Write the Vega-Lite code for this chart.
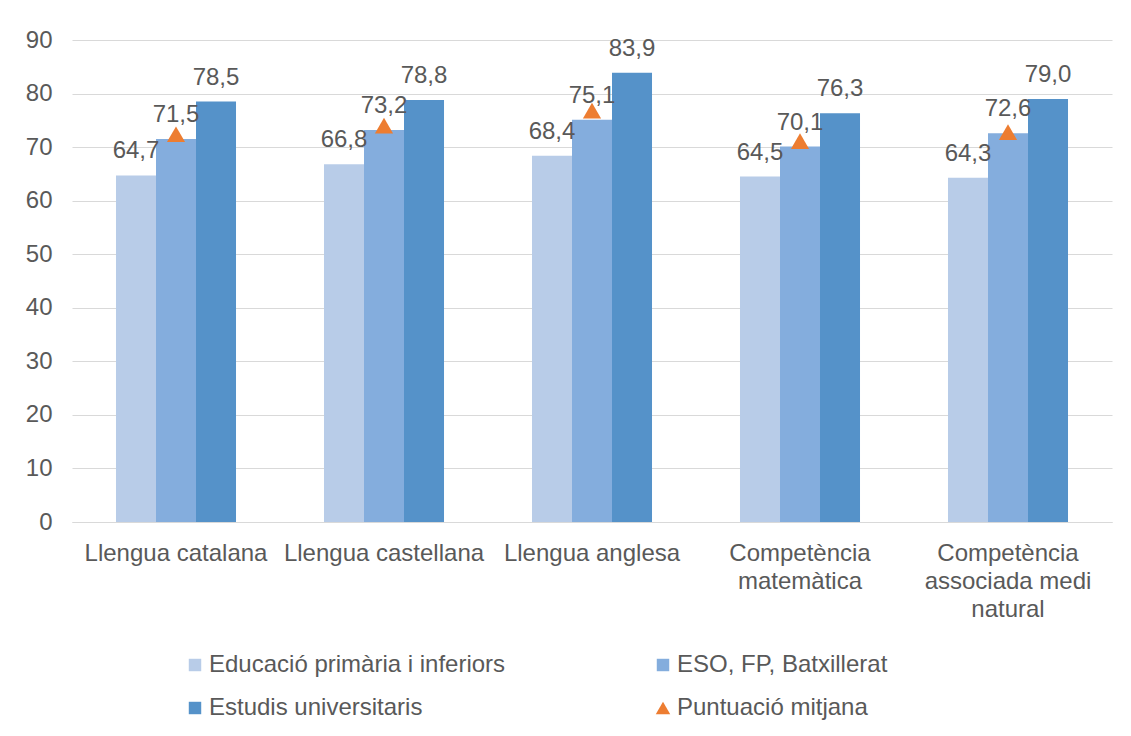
{
  "$schema": "https://vega.github.io/schema/vega-lite/v6.json",
  "width": 1040,
  "height": 482,
  "autosize": {"type": "none"},
  "padding": {"left": 72, "top": 40, "right": 19, "bottom": 214},
  "background": "#ffffff",
  "config": {
    "locale": {"number": {"decimal": ",", "thousands": ".", "grouping": [3], "currency": ["", " €"]}},
    "view": {"stroke": null},
    "font": "Liberation Sans",
    "axis": {"labelFont": "Liberation Sans", "labelColor": "#595959", "labelFontSize": 24, "title": null},
    "legend": {"labelFont": "Liberation Sans"}
  },
  "data": {
    "values": [
      {"area": "Llengua catalana", "serie": "Educació primària i inferiors", "valor": 64.7},
      {"area": "Llengua catalana", "serie": "ESO, FP, Batxillerat", "valor": 71.5},
      {"area": "Llengua catalana", "serie": "Estudis universitaris", "valor": 78.5},
      {"area": "Llengua catalana", "serie": "Puntuació mitjana", "valor": 72.4},
      {"area": "Llengua castellana", "serie": "Educació primària i inferiors", "valor": 66.8},
      {"area": "Llengua castellana", "serie": "ESO, FP, Batxillerat", "valor": 73.2},
      {"area": "Llengua castellana", "serie": "Estudis universitaris", "valor": 78.8},
      {"area": "Llengua castellana", "serie": "Puntuació mitjana", "valor": 74.0},
      {"area": "Llengua anglesa", "serie": "Educació primària i inferiors", "valor": 68.4},
      {"area": "Llengua anglesa", "serie": "ESO, FP, Batxillerat", "valor": 75.1},
      {"area": "Llengua anglesa", "serie": "Estudis universitaris", "valor": 83.9},
      {"area": "Llengua anglesa", "serie": "Puntuació mitjana", "valor": 76.8},
      {"area": "Competència matemàtica", "serie": "Educació primària i inferiors", "valor": 64.5},
      {"area": "Competència matemàtica", "serie": "ESO, FP, Batxillerat", "valor": 70.1},
      {"area": "Competència matemàtica", "serie": "Estudis universitaris", "valor": 76.3},
      {"area": "Competència matemàtica", "serie": "Puntuació mitjana", "valor": 71.1},
      {"area": "Competència associada medi natural", "serie": "Educació primària i inferiors", "valor": 64.3},
      {"area": "Competència associada medi natural", "serie": "ESO, FP, Batxillerat", "valor": 72.6},
      {"area": "Competència associada medi natural", "serie": "Estudis universitaris", "valor": 79.0},
      {"area": "Competència associada medi natural", "serie": "Puntuació mitjana", "valor": 72.8}
    ]
  },
  "encoding": {
    "x": {
      "field": "area",
      "type": "nominal",
      "sort": ["Llengua catalana", "Llengua castellana", "Llengua anglesa", "Competència matemàtica", "Competència associada medi natural"],
      "scale": {"paddingInner": 0.423, "paddingOuter": 0.2115},
      "axis": {
        "labelAngle": 0,
        "ticks": false,
        "tickSize": 0,
        "labelPadding": 19,
        "labelLineHeight": 28,
        "labelBaseline": "top",
        "labelLimit": 400,
        "domainColor": "#D9D9D9",
        "domainWidth": 1,
        "labelExpr": "datum.value == 'Competència matemàtica' ? ['Competència', 'matemàtica'] : datum.value == 'Competència associada medi natural' ? ['Competència', 'associada medi', 'natural'] : datum.value"
      }
    },
    "y": {
      "field": "valor",
      "type": "quantitative",
      "scale": {"domain": [0, 90], "nice": false},
      "axis": {
        "values": [0, 10, 20, 30, 40, 50, 60, 70, 80, 90],
        "domain": false,
        "ticks": false,
        "tickSize": 0,
        "labelPadding": 20,
        "gridColor": "#D9D9D9",
        "gridWidth": 1
      }
    }
  },
  "layer": [
    {
      "transform": [{"filter": "datum.serie != 'Puntuació mitjana'"}],
      "mark": {"type": "bar"},
      "encoding": {
        "xOffset": {
          "field": "serie",
          "type": "nominal",
          "scale": {"domain": ["Educació primària i inferiors", "ESO, FP, Batxillerat", "Estudis universitaris"], "paddingInner": 0, "paddingOuter": 0}
        },
        "color": {
          "field": "serie",
          "type": "nominal",
          "scale": {
            "domain": ["Educació primària i inferiors", "ESO, FP, Batxillerat", "Estudis universitaris", "Puntuació mitjana"],
            "range": ["#B8CCE8", "#84ADDD", "#5592C9", "#ED7D31"]
          },
          "legend": {
            "title": null,
            "orient": "none",
            "legendX": 111,
            "legendY": 613,
            "direction": "horizontal",
            "columns": 2,
            "columnPadding": 145,
            "rowPadding": 19,
            "padding": 0,
            "labelFontSize": 24,
            "labelColor": "#595959",
            "labelOffset": 2,
            "labelLimit": 500,
            "symbolSize": 155,
            "symbolStrokeWidth": 0,
            "symbolOpacity": 1,
            "encode": {
              "symbols": {
                "update": {
                  "shape": {"signal": "datum.label == 'Puntuació mitjana' ? 'triangle-up' : 'square'"},
                  "size": {"signal": "datum.label == 'Puntuació mitjana' ? 210 : 155"}
                }
              }
            }
          }
        }
      }
    },
    {
      "transform": [{"filter": "datum.serie != 'Puntuació mitjana'"}],
      "mark": {"type": "text", "baseline": "alphabetic", "align": "center", "dy": -17, "fontSize": 24, "color": "#595959", "font": "Liberation Sans"},
      "encoding": {
        "xOffset": {"field": "serie", "type": "nominal"},
        "text": {"field": "valor", "type": "quantitative", "format": ".1f"}
      }
    },
    {
      "transform": [{"filter": "datum.serie == 'Puntuació mitjana'"}],
      "mark": {"type": "point", "shape": "triangle-up", "filled": true, "size": 330, "opacity": 1, "strokeWidth": 0},
      "encoding": {
        "xOffset": {"datum": "ESO, FP, Batxillerat"},
        "color": {"field": "serie", "type": "nominal"}
      }
    }
  ]
}
